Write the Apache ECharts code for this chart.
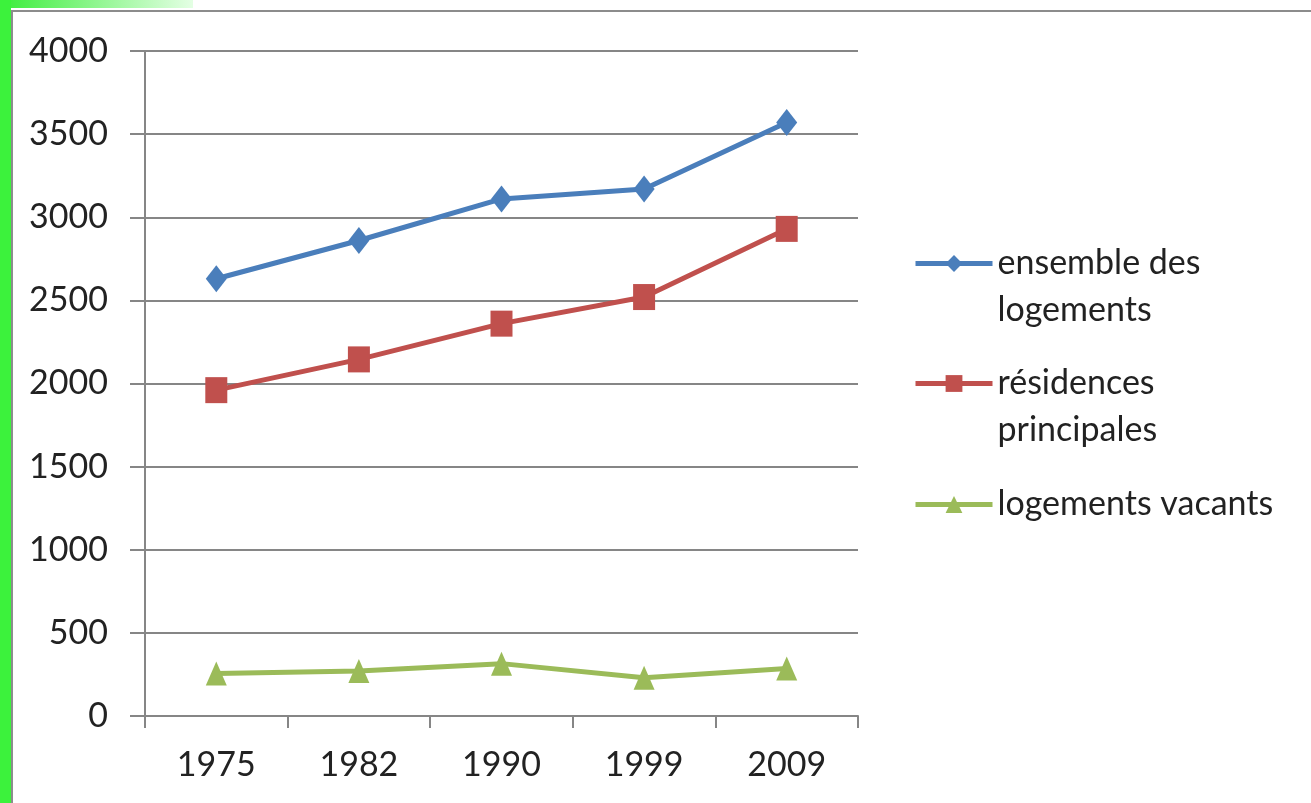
<!DOCTYPE html>
<html>
<head>
<meta charset="utf-8">
<script src="https://cdn.jsdelivr.net/npm/echarts@6/dist/echarts.min.js"></script>
<style>
  html, body { margin: 0; padding: 0; background: #fff; }
  #chart { width: 1311px; height: 803px; }
</style>
</head>
<body>
<div id="chart"></div>
<script>
// données
const years = ['1975', '1982', '1990', '1999', '2009']
const ensemble = [2630, 2860, 3110, 3170, 3570]
const residences = [1960, 2145, 2360, 2520, 2930]
const vacants = [255, 270, 315, 230, 285]
const yTicks = [0, 500, 1000, 1500, 2000, 2500, 3000, 3500, 4000]

const names = ['ensemble des logements', 'résidences principales', 'logements vacants']
// ligne vide en tête : le symbole reste aligné sur la première ligne du texte
const legendText = {
  'ensemble des logements': '\nensemble des\nlogements',
  'résidences principales': '\nrésidences\nprincipales',
  'logements vacants': 'logements vacants'
}

const FONT = 'Lato'
const SIZE = 34
const gray = '#868686'

const chart = echarts.init(document.getElementById('chart'))

function legendFor(name, top) {
  return {
    data: [name],
    left: 913,
    top: top,
    padding: 0,
    itemWidth: 77,
    itemHeight: 21,
    itemGap: 5,
    lineStyle: { width: 5 },
    formatter: (n) => legendText[n],
    textStyle: {
      fontFamily: FONT,
      fontSize: SIZE,
      color: '#222',
      lineHeight: 47
    }
  }
}

const option = {
  backgroundColor: '#fff',
  animation: false,
  grid: { left: 145, right: 453, top: 51, bottom: 87 },
  legend: [
    legendFor(names[0], 193),
    legendFor(names[1], 313),
    legendFor(names[2], 481)
  ],
  xAxis: {
    type: 'category',
    data: years,
    boundaryGap: true,
    axisLine: { lineStyle: { color: gray, width: 2 } },
    axisTick: { show: true, length: 12, lineStyle: { color: gray, width: 2 } },
    axisLabel: { margin: 32, fontFamily: FONT, fontSize: SIZE, color: '#222' }
  },
  yAxis: {
    type: 'value',
    min: yTicks[0],
    max: yTicks[yTicks.length - 1],
    interval: 500,
    axisLine: { show: true, lineStyle: { color: gray, width: 2 } },
    axisTick: { show: true, length: 15, lineStyle: { color: gray, width: 2 } },
    axisLabel: {
      margin: 37, fontFamily: FONT, fontSize: SIZE, color: '#222',
      formatter: (v) => String(v)
    },
    splitLine: { lineStyle: { color: gray, width: 2 } }
  },
  series: [
    {
      name: names[0],
      type: 'line',
      data: ensemble,
      symbol: 'diamond',
      symbolSize: [21, 27],
      color: '#4a7ebb',
      lineStyle: { width: 5, color: '#4a7ebb' }
    },
    {
      name: names[1],
      type: 'line',
      data: residences,
      symbol: 'rect',
      symbolSize: [22, 26],
      color: '#c0504d',
      lineStyle: { width: 5, color: '#c0504d' }
    },
    {
      name: names[2],
      type: 'line',
      data: vacants,
      symbol: 'triangle',
      symbolSize: [21, 24],
      color: '#9bbb59',
      lineStyle: { width: 5, color: '#9bbb59' }
    }
  ],
  graphic: [
    // bande verte à gauche et cadre gris
    { type: 'rect', shape: { x: 0, y: 0, width: 11, height: 803 }, style: { fill: '#3cf23c' } },
    {
      type: 'rect', shape: { x: 11, y: 0, width: 182, height: 8 },
      style: {
        fill: new echarts.graphic.LinearGradient(0, 0, 1, 0, [
          { offset: 0, color: '#44ee44' },
          { offset: 1, color: '#e4ffe4' }
        ])
      }
    },
    { type: 'rect', shape: { x: 11, y: 10, width: 1300, height: 2 }, style: { fill: '#8c8c8c' } },
    { type: 'rect', shape: { x: 11, y: 10, width: 2, height: 793 }, style: { fill: '#8c8c8c' } }
  ]
}

chart.setOption(option)

window.addEventListener('resize', () => {
  chart.resize()
})
</script>
</body>
</html>
